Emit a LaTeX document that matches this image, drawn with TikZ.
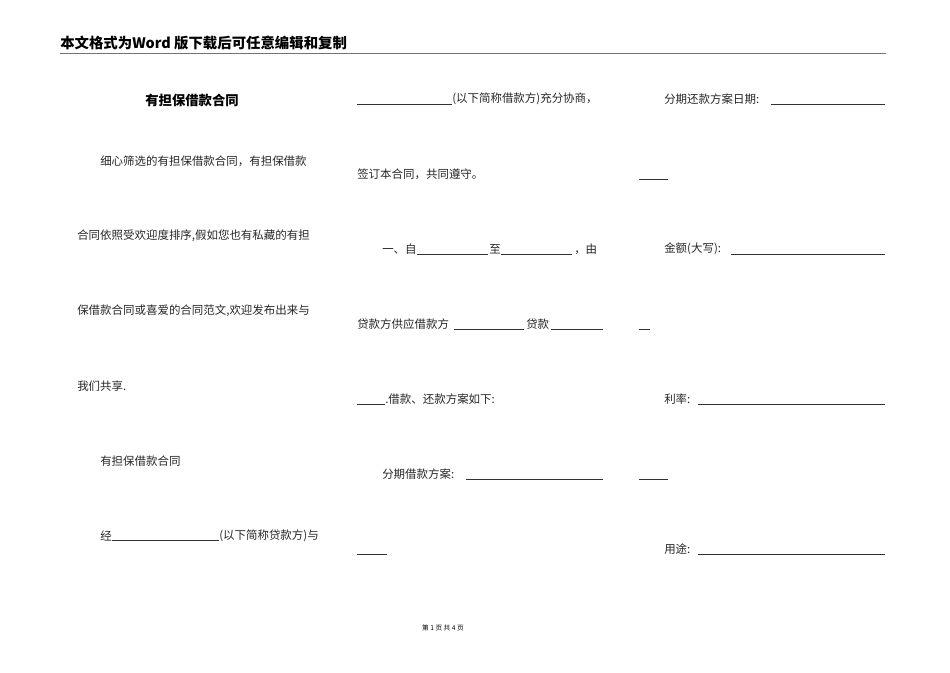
\documentclass[tikz,border=0pt]{standalone}
\usepackage{fontspec}
\newfontfamily\cjk{Noto Sans CJK SC}
\begin{document}
\begin{tikzpicture}[x=0.75pt,y=-0.75pt,
  body/.style={anchor=west,inner sep=0pt,font=\cjk\fontsize{8.6}{9}\selectfont,text=black!85},
  ul/.style={draw=black!80,line width=0.5pt}]
\useasboundingbox (0,0) rectangle (950,672);
\node[anchor=south west,inner sep=0pt,font=\cjk\bfseries\fontsize{10.8}{12}\selectfont] (hdr) at (60,50) {本文格式为Word 版下载后可任意编辑和复制};
\draw[draw=black!55,line width=1.2pt] (60,53.5) -- (886,53.5);
\node[inner sep=0pt,font=\cjk\bfseries\fontsize{10}{11}\selectfont] (title) at (192,100) {有担保借款合同};
% column 1
\node[body] (a1) at (100,161) {细心筛选的有担保借款合同，有担保借款};
\node[body] (a2) at (77,236) {合同依照受欢迎度排序,假如您也有私藏的有担};
\node[body] (a3) at (77,311) {保借款合同或喜爱的合同范文,欢迎发布出来与};
\node[body] (a4) at (77,386) {我们共享.};
\node[body] (a5) at (100,461) {有担保借款合同};
\node[body] (a6) at (100,536) {经};
\draw[ul] (112,540) -- (219,540);
\node[body] (a7) at (219,536) {(以下简称贷款方)与};
% column 2
\draw[ul] (357,104) -- (452,104);
\node[body] (b1) at (452,99) {(以下简称借款方)充分协商，};
\node[body] (b2) at (357,174) {签订本合同，共同遵守。};
\node[body] (b3) at (382,249) {一、自};
\draw[ul] (417,254) -- (488,254);
\node[body] (b3b) at (489,249) {至};
\draw[ul] (501,254) -- (572,254);
\node[body] (b3c) at (574,249) {，由};
\node[body] (b4) at (357,324) {贷款方供应借款方};
\draw[ul] (454,329) -- (524,329);
\node[body] (b4b) at (526,324) {贷款};
\draw[ul] (551,329) -- (603,329);
\draw[ul] (357,404) -- (385,404);
\node[body] (b5) at (385,399) {.借款、还款方案如下:};
\node[body] (b6) at (382,474) {分期借款方案:};
\draw[ul] (466,479) -- (603,479);
\draw[ul] (357,554) -- (387,554);
% column 3
\node[body] (c1) at (664,99) {分期还款方案日期:};
\draw[ul] (771,104) -- (885,104);
\draw[ul] (639,179) -- (668,179);
\node[body] (c2) at (664,249) {金额(大写):};
\draw[ul] (731,254) -- (885,254);
\draw[ul] (639,329) -- (650,329);
\node[body] (c3) at (664,399) {利率:};
\draw[ul] (698,404) -- (885,404);
\draw[ul] (639,479) -- (668,479);
\node[body] (c4) at (664,549) {用途:};
\draw[ul] (698,554) -- (885,554);
\node[inner sep=0pt,font=\cjk\fontsize{5}{6}\selectfont] (ft) at (443,628) {第 1 页 共 4 页};
\end{tikzpicture}
\end{document}
